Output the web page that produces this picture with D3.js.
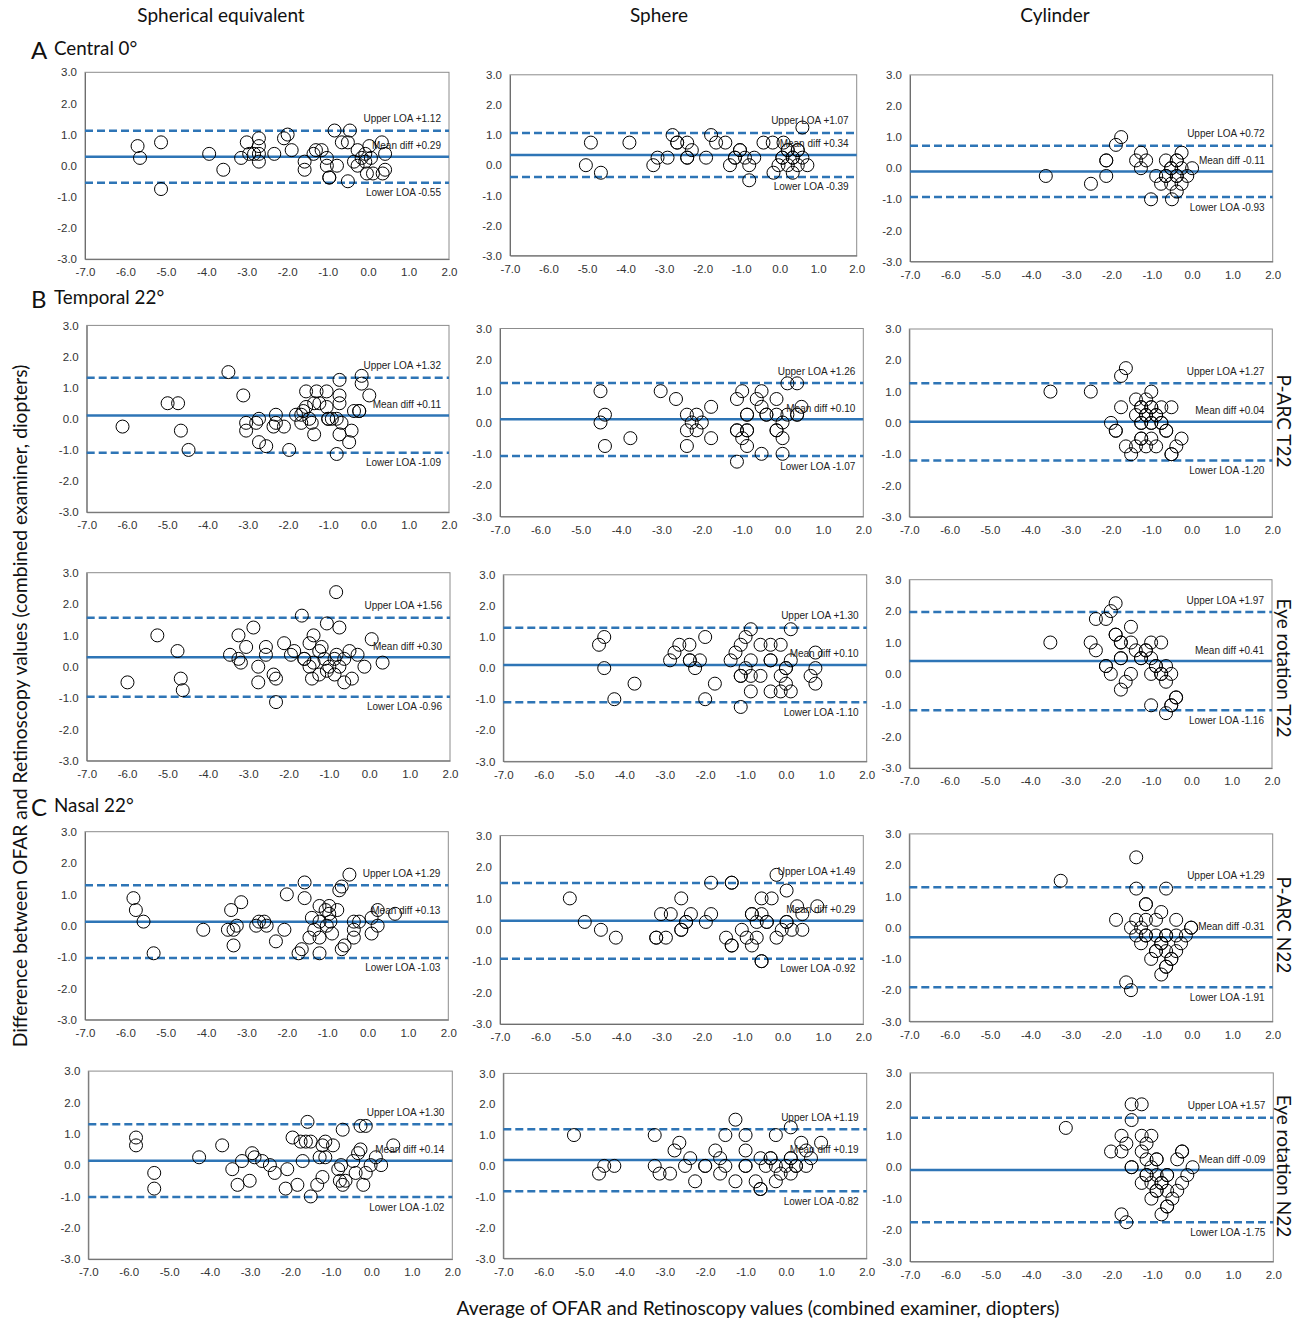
<!DOCTYPE html>
<html>
<head>
<meta charset="utf-8">
<title>OFAR vs Retinoscopy Bland-Altman</title>
<script src="https://d3js.org/d3.v7.min.js"></script>
<style>
  body { margin: 0; background: #fff; }
</style>
</head>
<body>
<div id="view"></div>
<script>
// ---- labels
var columnTitles = ["Spherical equivalent", "Sphere", "Cylinder"];
var sectionLetters = ["A", "B", "C"];
var sectionNames = ["Central 0\u00b0", "Temporal 22\u00b0", "Nasal 22\u00b0"];
var rowNames = ["", "P-ARC T22", "Eye rotation T22", "P-ARC N22", "Eye rotation N22"];
var xTicks = [-7, -6, -5, -4, -3, -2, -1, 0, 1, 2];
var yTicks = [-3, -2, -1, 0, 1, 2, 3];

// ---- [average, difference] pairs, one array per panel
var seCentral = [[-5.70,0.63],[-5.64,0.25],[-5.12,0.75],[-5.12,-0.75],[-3.93,0.38],[-3.58,-0.13],[-3.14,0.25],[-3.00,0.75],[-2.94,0.38],[-2.82,0.38],[-2.70,0.88],[-2.70,0.63],[-2.70,0.38],[-2.70,0.13],[-2.32,0.38],[-2.08,0.88],[-1.99,1.00],[-1.89,0.50],[-1.57,0.13],[-1.57,-0.13],[-1.35,0.38],[-1.29,0.50],[-1.15,0.50],[-1.02,0.25],[-1.02,0.00],[-0.96,-0.38],[-0.96,-0.38],[-0.83,1.13],[-0.77,0.00],[-0.65,0.75],[-0.50,0.75],[-0.50,-0.50],[-0.45,1.13],[-0.35,0.13],[-0.26,0.50],[-0.26,0.00],[-0.16,0.25],[-0.07,0.38],[-0.07,0.13],[-0.03,-0.25],[0.03,0.63],[0.07,0.25],[0.12,-0.25],[0.34,0.75],[0.36,-0.25],[0.42,0.38],[0.42,-0.13]];
var sphCentral = [[-5.03,0],[-4.90,0.75],[-4.64,-0.25],[-3.90,0.75],[-3.28,0],[-3.17,0.25],[-2.91,0.25],[-2.78,1.0],[-2.66,0.75],[-2.66,0.75],[-2.40,0.75],[-2.40,0.25],[-2.40,0.25],[-2.28,0.5],[-1.91,0.25],[-1.78,1.0],[-1.65,0.75],[-1.41,0.75],[-1.29,0],[-1.16,0.25],[-1.16,0.25],[-1.03,0.5],[-1.03,0.5],[-0.90,0.25],[-0.79,0],[-0.79,-0.5],[-0.66,0.25],[-0.42,0.75],[-0.18,0.75],[-0.16,-0.25],[-0.03,0],[0.07,0.25],[0.07,0.25],[0.10,0.75],[0.21,0.5],[0.21,0.5],[0.21,0],[0.34,0.25],[0.34,0.25],[0.34,-0.25],[0.47,0.5],[0.47,0.5],[0.47,0],[0.59,0.25],[0.59,1.25],[0.72,0]];
var cylCentral = [[-3.63,-0.25],[-2.51,-0.5],[-2.13,0.25],[-2.13,0.25],[-2.13,-0.25],[-1.89,0.75],[-1.76,1.0],[-1.39,0.25],[-1.27,0.5],[-1.27,0],[-1.14,0.25],[-1.02,-1.0],[-0.89,-0.25],[-0.77,-0.5],[-0.65,0.25],[-0.65,-0.25],[-0.65,-0.25],[-0.52,0],[-0.52,0],[-0.52,-0.5],[-0.50,-1.0],[-0.38,0.25],[-0.38,0.25],[-0.38,-0.25],[-0.38,-0.25],[-0.38,-0.75],[-0.26,0.5],[-0.26,0],[-0.26,-0.5],[-0.12,-0.25],[0,0]];

var seT22Parc = [[-6.11,-0.25],[-4.99,0.5],[-4.73,0.5],[-4.66,-0.38],[-4.47,-1.0],[-3.48,1.5],[-3.11,0.75],[-3.04,-0.13],[-3.04,-0.38],[-2.79,-0.13],[-2.72,0],[-2.72,-0.75],[-2.54,-0.88],[-2.36,-0.25],[-2.30,0.13],[-2.30,-0.13],[-2.10,-0.25],[-1.97,-1.0],[-1.80,0.13],[-1.67,0.13],[-1.67,-0.13],[-1.62,0.25],[-1.55,0.88],[-1.55,0.38],[-1.47,0],[-1.41,-0.13],[-1.35,0.5],[-1.35,-0.5],[-1.29,0.88],[-1.22,0.5],[-1.04,0.88],[-1.04,0.38],[-1.00,0],[-1.00,0],[-0.91,0],[-0.79,-1.13],[-0.79,0],[-0.72,1.25],[-0.72,0.75],[-0.72,0.5],[-0.72,-0.5],[-0.67,-0.13],[-0.48,-0.75],[-0.42,-0.38],[-0.36,0.25],[-0.23,0.25],[-0.23,0.25],[-0.17,1.38],[-0.17,1.13],[0.02,0.75]];
var sphT22Parc = [[-4.51,1.0],[-4.51,0],[-4.40,0.25],[-4.40,-0.75],[-3.77,-0.5],[-3.02,1.0],[-2.64,0.75],[-2.37,0.25],[-2.37,-0.25],[-2.37,-0.75],[-2.25,0],[-2.13,0.25],[-2.13,-0.25],[-2.0,0],[-1.77,0.5],[-1.77,-0.5],[-1.13,0.75],[-1.13,-0.25],[-1.13,-0.25],[-1.13,-1.25],[-1.0,1.0],[-1.0,-0.5],[-0.88,0.25],[-0.88,0.25],[-0.88,-0.25],[-0.88,-0.25],[-0.88,-0.75],[-0.64,0.75],[-0.52,1.0],[-0.52,0.5],[-0.52,-1.0],[-0.40,0.25],[-0.40,0.25],[-0.15,0.75],[-0.15,0.25],[-0.15,-0.25],[-0.15,-0.25],[0,0],[0,-0.5],[0,-1.0],[0.12,1.25],[0.12,0.25],[0.36,1.25],[0.36,0.25],[0.36,0.25],[0.47,0.5]];
var cylT22Parc = [[-3.5,1.0],[-2.5,1.0],[-1.75,1.5],[-1.63,1.75],[-1.75,0.5],[-2.0,0],[-1.88,-0.25],[-1.88,-0.25],[-1.63,-0.75],[-1.5,-1.0],[-1.38,0.75],[-1.38,0.25],[-1.38,-0.75],[-1.25,0.5],[-1.25,0.5],[-1.25,0],[-1.25,0],[-1.25,-0.5],[-1.25,-0.5],[-1.13,0.75],[-1.13,0.25],[-1.13,0.25],[-1.13,-0.75],[-1.0,1.0],[-1.0,0.5],[-1.0,0.5],[-1.0,0],[-1.0,0],[-1.0,-0.5],[-0.88,0.25],[-0.88,0.25],[-0.88,-0.75],[-0.75,0.5],[-0.75,0],[-0.75,0],[-0.63,-0.25],[-0.63,-0.25],[-0.5,0.5],[-0.5,-1.0],[-0.5,-1.0],[-0.38,-0.75],[-0.25,-0.5]];

var seT22Rot = [[-5.99,-0.5],[-5.25,1.0],[-4.75,0.5],[-4.67,-0.38],[-4.62,-0.75],[-3.45,0.38],[-3.24,0.25],[-3.24,1.0],[-3.18,0.13],[-3.05,0.63],[-2.87,1.25],[-2.75,0],[-2.75,-0.5],[-2.56,0.63],[-2.56,0.38],[-2.37,-0.25],[-2.31,-0.38],[-2.31,-1.13],[-2.11,0.75],[-1.94,0.38],[-1.86,0.5],[-1.67,1.63],[-1.61,0.25],[-1.61,0.25],[-1.48,0.75],[-1.48,0],[-1.42,-0.38],[-1.38,1.0],[-1.38,0.13],[-1.24,0.5],[-1.24,-0.25],[-1.18,0.63],[-1.11,0.25],[-1.05,1.38],[-1.05,-0.13],[-0.99,0],[-0.86,0.25],[-0.86,-0.25],[-0.82,2.38],[-0.81,0.38],[-0.74,1.25],[-0.74,0],[-0.62,0.25],[-0.62,-0.5],[-0.49,0.5],[-0.43,-0.38],[-0.29,0.38],[-0.12,0],[0.06,0.88],[0.33,0.13]];
var sphT22Rot = [[-4.63,0.75],[-4.5,1.0],[-4.5,0],[-4.25,-1.0],[-3.75,-0.5],[-2.87,0.25],[-2.76,0.5],[-2.64,0.75],[-2.39,0.75],[-2.38,0.25],[-2.38,0.25],[-2.25,0],[-2.13,0.25],[-2.0,1.0],[-2.0,-1.0],[-1.76,-0.5],[-1.37,0.25],[-1.25,0.5],[-1.12,0.75],[-1.12,-0.25],[-1.12,-0.25],[-1.12,-1.25],[-1.0,1.0],[-1.0,0],[-0.87,1.25],[-0.87,0.25],[-0.87,-0.25],[-0.87,-0.75],[-0.63,0.75],[-0.63,-0.25],[-0.38,0.75],[-0.38,0.25],[-0.38,0.25],[-0.38,-0.75],[-0.13,0.75],[-0.13,-0.25],[-0.13,-0.75],[0,0],[0,0],[0,-0.5],[0.12,1.25],[0.12,0.25],[0.12,-0.75],[0.61,-0.25],[0.73,0.5],[0.73,0],[0.73,-0.5]];
var cylT22Rot = [[-3.5,1.0],[-2.5,1.0],[-2.37,0.75],[-2.37,1.75],[-2.12,1.75],[-2.12,0.25],[-2.12,0.25],[-2.0,2.0],[-2.0,0],[-1.88,2.25],[-1.88,1.25],[-1.88,1.25],[-1.75,1.0],[-1.75,1.0],[-1.75,0.5],[-1.75,0.5],[-1.75,-0.5],[-1.63,-0.25],[-1.5,1.5],[-1.5,1.0],[-1.5,0],[-1.38,0.75],[-1.25,0.5],[-1.25,0.5],[-1.13,0.75],[-1.13,0.75],[-1.0,1.0],[-1.0,0.5],[-1.0,0],[-1.0,-1.0],[-0.88,0.25],[-0.88,0.25],[-0.75,1.0],[-0.75,0],[-0.75,0],[-0.63,0.25],[-0.63,-0.25],[-0.63,-1.25],[-0.5,0],[-0.5,-1.0],[-0.5,-1.0],[-0.38,-0.75],[-0.38,-0.75]];

var seN22Parc = [[-5.80,0.88],[-5.74,0.5],[-5.55,0.13],[-5.30,-0.88],[-4.07,-0.13],[-3.46,-0.13],[-3.38,0.5],[-3.32,-0.13],[-3.32,-0.63],[-3.24,0],[-3.13,0.75],[-2.76,0],[-2.69,0.13],[-2.56,0.13],[-2.50,0],[-2.27,-0.5],[-2.06,-0.13],[-2.0,1.0],[-1.71,-0.88],[-1.63,-0.75],[-1.56,1.38],[-1.56,0.88],[-1.44,-0.38],[-1.38,0.25],[-1.32,-0.13],[-1.19,0.63],[-1.19,0.13],[-1.19,-0.38],[-1.19,-0.88],[-1.04,0.5],[-1.01,0],[-0.95,0.63],[-0.95,0.38],[-0.92,0.13],[-0.88,-0.25],[-0.75,0.5],[-0.70,1.13],[-0.64,1.25],[-0.64,-0.75],[-0.57,-0.63],[-0.45,1.63],[-0.34,0.13],[-0.34,-0.13],[-0.34,-0.38],[-0.21,0.13],[0.10,0.25],[0.10,-0.25],[0.25,0.5],[0.25,0],[0.68,0.38]];
var sphN22Parc = [[-5.27,1.0],[-4.9,0.25],[-4.5,0],[-4.13,-0.25],[-3.13,-0.25],[-3.13,-0.25],[-3.01,0.5],[-2.89,-0.25],[-2.77,0.5],[-2.51,1.0],[-2.51,0],[-2.51,0],[-2.39,0.25],[-2.39,0.25],[-2.27,0.5],[-1.90,0.25],[-1.77,1.5],[-1.77,0.5],[-1.40,-0.25],[-1.26,1.5],[-1.26,1.5],[-1.26,-0.5],[-1.26,-0.5],[-1.01,0],[-0.89,-0.25],[-0.76,0.5],[-0.76,0.5],[-0.76,-0.5],[-0.64,0.25],[-0.64,-0.25],[-0.52,1.0],[-0.52,0.5],[-0.52,-1.0],[-0.52,-1.0],[-0.39,0.25],[-0.39,0.25],[-0.27,1.0],[-0.15,1.75],[-0.15,-0.25],[-0.02,0],[0.10,0.25],[0.10,0.25],[0.10,1.25],[0.23,0],[0.36,0.75],[0.49,0.5],[0.49,0],[0.86,0.75]];
var cylN22Parc = [[-3.25,1.5],[-1.88,0.25],[-1.63,-1.75],[-1.51,-2.0],[-1.51,0],[-1.38,2.25],[-1.38,1.25],[-1.38,0.25],[-1.38,-0.25],[-1.26,0],[-1.26,-0.5],[-1.14,0.75],[-1.14,0.75],[-1.14,0.25],[-1.14,-0.25],[-1.14,-0.25],[-1.01,-1.0],[-0.89,0.25],[-0.89,-0.25],[-0.89,-0.75],[-0.89,-0.75],[-0.76,0.5],[-0.76,-0.5],[-0.76,-0.5],[-0.76,-1.5],[-0.64,1.25],[-0.64,-0.25],[-0.64,-0.25],[-0.64,-0.75],[-0.64,-1.25],[-0.64,-1.25],[-0.51,-1.0],[-0.51,-1.0],[-0.39,0.25],[-0.39,-0.25],[-0.39,-0.75],[-0.27,-0.5],[-0.15,-0.25],[-0.02,0],[-0.02,0]];

var seN22Rot = [[-5.82,0.88],[-5.82,0.63],[-5.37,-0.25],[-5.37,-0.75],[-4.26,0.25],[-3.69,0.63],[-3.44,-0.13],[-3.31,-0.63],[-3.20,0.13],[-3.01,-0.5],[-2.95,0.38],[-2.89,0.25],[-2.70,0.13],[-2.51,0],[-2.39,-0.25],[-2.12,-0.75],[-2.08,-0.13],[-1.95,0.88],[-1.83,-0.63],[-1.75,0.75],[-1.70,0.13],[-1.62,0.75],[-1.58,1.38],[-1.50,0.75],[-1.50,-1.0],[-1.34,-0.63],[-1.28,0.25],[-1.21,0.63],[-1.21,-0.38],[-1.14,0.75],[-1.14,0.25],[-0.95,0.63],[-0.82,-0.13],[-0.78,-0.5],[-0.75,0],[-0.71,1.13],[-0.71,-0.63],[-0.64,-0.5],[-0.45,0.13],[-0.39,-0.25],[-0.33,0.38],[-0.27,0.5],[-0.27,1.25],[-0.20,-0.63],[-0.14,1.25],[-0.14,-0.25],[-0.02,0],[0.11,0.25],[0.24,0],[0.54,0.63]];
var sphN22Rot = [[-5.25,1.0],[-4.63,-0.25],[-4.5,0],[-4.25,0],[-3.25,1.0],[-3.25,0],[-3.13,-0.25],[-2.87,-0.25],[-2.76,0.5],[-2.64,0.75],[-2.5,0],[-2.37,0.25],[-2.25,-0.5],[-2.0,0],[-2.0,0],[-1.75,0.5],[-1.63,0.25],[-1.63,-0.25],[-1.5,1.0],[-1.5,0],[-1.25,1.5],[-1.25,-0.5],[-1.0,1.0],[-1.0,0.5],[-1.0,0],[-1.0,0],[-0.75,-0.5],[-0.63,0.25],[-0.63,-0.75],[-0.63,-0.75],[-0.5,0],[-0.38,0.25],[-0.38,0.25],[-0.25,1.0],[-0.25,0],[-0.25,-0.5],[-0.13,-0.25],[0,0],[0.12,1.25],[0.12,0.25],[0.12,0.25],[0.12,-0.25],[0.25,0],[0.25,0],[0.38,0.75],[0.5,0.5],[0.5,0],[0.62,0.25],[0.87,0.75]];
var cylN22Rot = [[-3.14,1.25],[-2.02,0.5],[-1.76,1.0],[-1.76,0.5],[-1.76,-1.5],[-1.64,0.75],[-1.64,-1.75],[-1.51,2.0],[-1.51,1.5],[-1.51,0],[-1.51,0],[-1.26,2.0],[-1.26,1.0],[-1.26,0.5],[-1.26,-0.5],[-1.14,0.75],[-1.14,0.25],[-1.14,-0.25],[-1.14,-0.25],[-1.02,1.0],[-1.02,0],[-1.02,-0.5],[-1.02,-1.0],[-0.89,0.25],[-0.89,0.25],[-0.89,-0.25],[-0.89,-0.75],[-0.89,-0.75],[-0.77,-0.5],[-0.77,-0.5],[-0.77,-1.5],[-0.63,-0.25],[-0.63,-0.25],[-0.63,-0.75],[-0.63,-1.25],[-0.63,-1.25],[-0.50,-1.0],[-0.38,0.25],[-0.38,-0.75],[-0.26,0.5],[-0.26,0.5],[-0.26,-0.5],[-0.13,-0.25],[0,0]];

// ---- limits of agreement: [upper, mean, lower]
var loaCentral = [[1.12, 0.29, -0.55], [1.07, 0.34, -0.39], [0.72, -0.11, -0.93]];
var loaT22Parc = [[1.32, 0.11, -1.09], [1.26, 0.10, -1.07], [1.27, 0.04, -1.20]];
var loaT22Rot  = [[1.56, 0.30, -0.96], [1.30, 0.10, -1.10], [1.97, 0.41, -1.16]];
var loaN22Parc = [[1.29, 0.13, -1.03], [1.49, 0.29, -0.92], [1.29, -0.31, -1.91]];
var loaN22Rot  = [[1.30, 0.14, -1.02], [1.19, 0.19, -0.82], [1.57, -0.09, -1.75]];

var width = 1302;
var height = 1323;
var blue = "#2e75b6";
var axisFont = "'Liberation Sans', Arial, sans-serif";
var titleFont = "Lato, 'Open Sans', sans-serif";

var svg = d3.select("#view")
    .append("svg")
    .attr("width", width)
    .attr("height", height)
    .style("background", "#fff");

// plot box of each panel: left, top, right, bottom
var boxes = [
    [[85, 72.3, 449, 259.1], [510, 74.8, 856.7, 255.6], [910, 74.9, 1272.7, 261.5]],
    [[86.7, 325.4, 449, 512.2], [500, 328.5, 863.3, 516.5], [909.3, 329, 1272.3, 516.8]],
    [[86.7, 572.7, 450, 760.7], [503.3, 574.8, 866.7, 761.4], [909.3, 579.7, 1272, 768.1]],
    [[85, 831.7, 448.3, 1019.7], [500, 835.6, 863.3, 1024], [909.3, 833.9, 1272.7, 1021.4]],
    [[88.3, 1071.1, 452.3, 1259.1], [503.3, 1073.4, 866.7, 1258.4], [910, 1072.9, 1273.3, 1261.5]]
];
var points = [
    [seCentral, sphCentral, cylCentral],
    [seT22Parc, sphT22Parc, cylT22Parc],
    [seT22Rot, sphT22Rot, cylT22Rot],
    [seN22Parc, sphN22Parc, cylN22Parc],
    [seN22Rot, sphN22Rot, cylN22Rot]
];
var loas = [loaCentral, loaT22Parc, loaT22Rot, loaN22Parc, loaN22Rot];

function signed(v) {
    return (v >= 0 ? "+" : "-") + Math.abs(v).toFixed(2);
}

function drawPanel(box, pts, loa) {
    var x = d3.scaleLinear().domain([-7, 2]).range([box[0], box[2]]);
    var y = d3.scaleLinear().domain([-3, 3]).range([box[3], box[1]]);
    var g = svg.append("g");

    g.append("rect")
        .attr("x", box[0]).attr("y", box[1])
        .attr("width", box[2] - box[0]).attr("height", box[3] - box[1])
        .attr("fill", "none").attr("stroke", "#8c8c8c").attr("stroke-width", 1);

    var fmt = function (d) { return d.toFixed(1); };
    var xa = g.append("g")
        .attr("transform", "translate(0," + box[3] + ")")
        .call(d3.axisBottom(x).tickValues(xTicks).tickSize(0).tickSizeOuter(0).tickPadding(9).tickFormat(fmt));
    var ya = g.append("g")
        .attr("transform", "translate(" + box[0] + ",0)")
        .call(d3.axisLeft(y).tickValues(yTicks).tickSize(0).tickSizeOuter(0).tickPadding(8).tickFormat(fmt));
    [xa, ya].forEach(function (a) {
        a.attr("font-family", axisFont).attr("font-size", 11.5);
        a.select(".domain").attr("stroke", "#6e6e6e");
        a.selectAll("text").attr("fill", "#333");
    });

    // limits of agreement and mean difference
    g.selectAll(".loa")
        .data(loa)
        .enter().append("line")
        .attr("x1", box[0]).attr("x2", box[2])
        .attr("y1", function (d) { return y(d); })
        .attr("y2", function (d) { return y(d); })
        .attr("stroke", blue)
        .attr("stroke-width", 2.5)
        .attr("stroke-dasharray", function (d, i) { return i === 1 ? null : "8,4"; });

    g.selectAll(".pt")
        .data(pts)
        .enter().append("circle")
        .attr("cx", function (d) { return x(d[0]); })
        .attr("cy", function (d) { return y(d[1]); })
        .attr("r", 6.5)
        .attr("fill", "none")
        .attr("stroke", "#000")
        .attr("stroke-width", 1);

    var names = ["Upper LOA ", "Mean diff ", "Lower LOA "];
    var offs = [-12, -11, 10];
    g.selectAll(".lab")
        .data(loa)
        .enter().append("text")
        .attr("x", box[2] - 8)
        .attr("y", function (d, i) { return y(d) + offs[i]; })
        .attr("dy", "0.35em")
        .attr("text-anchor", "end")
        .attr("font-family", axisFont)
        .attr("font-size", 10)
        .attr("fill", "#222")
        .text(function (d, i) { return names[i] + signed(d); });
}

for (var r = 0; r < boxes.length; r++) {
    for (var c = 0; c < 3; c++) {
        drawPanel(boxes[r][c], points[r][c], loas[r][c]);
    }
}

// column titles
var colCenters = [221, 659, 1055];
svg.selectAll(".coltitle")
    .data(columnTitles)
    .enter().append("text")
    .attr("x", function (d, i) { return colCenters[i]; })
    .attr("y", 22)
    .attr("text-anchor", "middle")
    .attr("font-family", titleFont)
    .attr("font-size", 19)
    .attr("fill", "#111")
    .text(function (d) { return d; });

// section headings
var sectionY = [55, 304, 812];
sectionLetters.forEach(function (s, i) {
    svg.append("text")
        .attr("x", 31).attr("y", sectionY[i] + 4)
        .attr("font-family", titleFont).attr("font-size", 24)
        .attr("fill", "#111").text(s);
    svg.append("text")
        .attr("x", 54).attr("y", sectionY[i])
        .attr("font-family", titleFont).attr("font-size", 18.8)
        .attr("fill", "#111").text(sectionNames[i]);
});

// row labels on the right
var rowCenters = [0, 421, 668, 925, 1166];
rowNames.forEach(function (n, i) {
    if (!n) return;
    svg.append("text")
        .attr("transform", "translate(1284," + rowCenters[i] + ") rotate(90)")
        .attr("text-anchor", "middle")
        .attr("dy", "0.35em")
        .attr("font-family", titleFont)
        .attr("font-size", 19)
        .attr("fill", "#111")
        .text(n);
});

// axis titles
svg.append("text")
    .attr("transform", "translate(20,706) rotate(-90)")
    .attr("text-anchor", "middle")
    .attr("dy", "0.35em")
    .attr("font-family", titleFont)
    .attr("font-size", 19.3)
    .attr("fill", "#111")
    .text("Difference between OFAR and Retinoscopy values (combined examiner, diopters)");

svg.append("text")
    .attr("x", 758).attr("y", 1315)
    .attr("text-anchor", "middle")
    .attr("font-family", titleFont)
    .attr("font-size", 19.2)
    .attr("fill", "#111")
    .text("Average of OFAR and Retinoscopy values (combined examiner, diopters)");
</script>
</body>
</html>
